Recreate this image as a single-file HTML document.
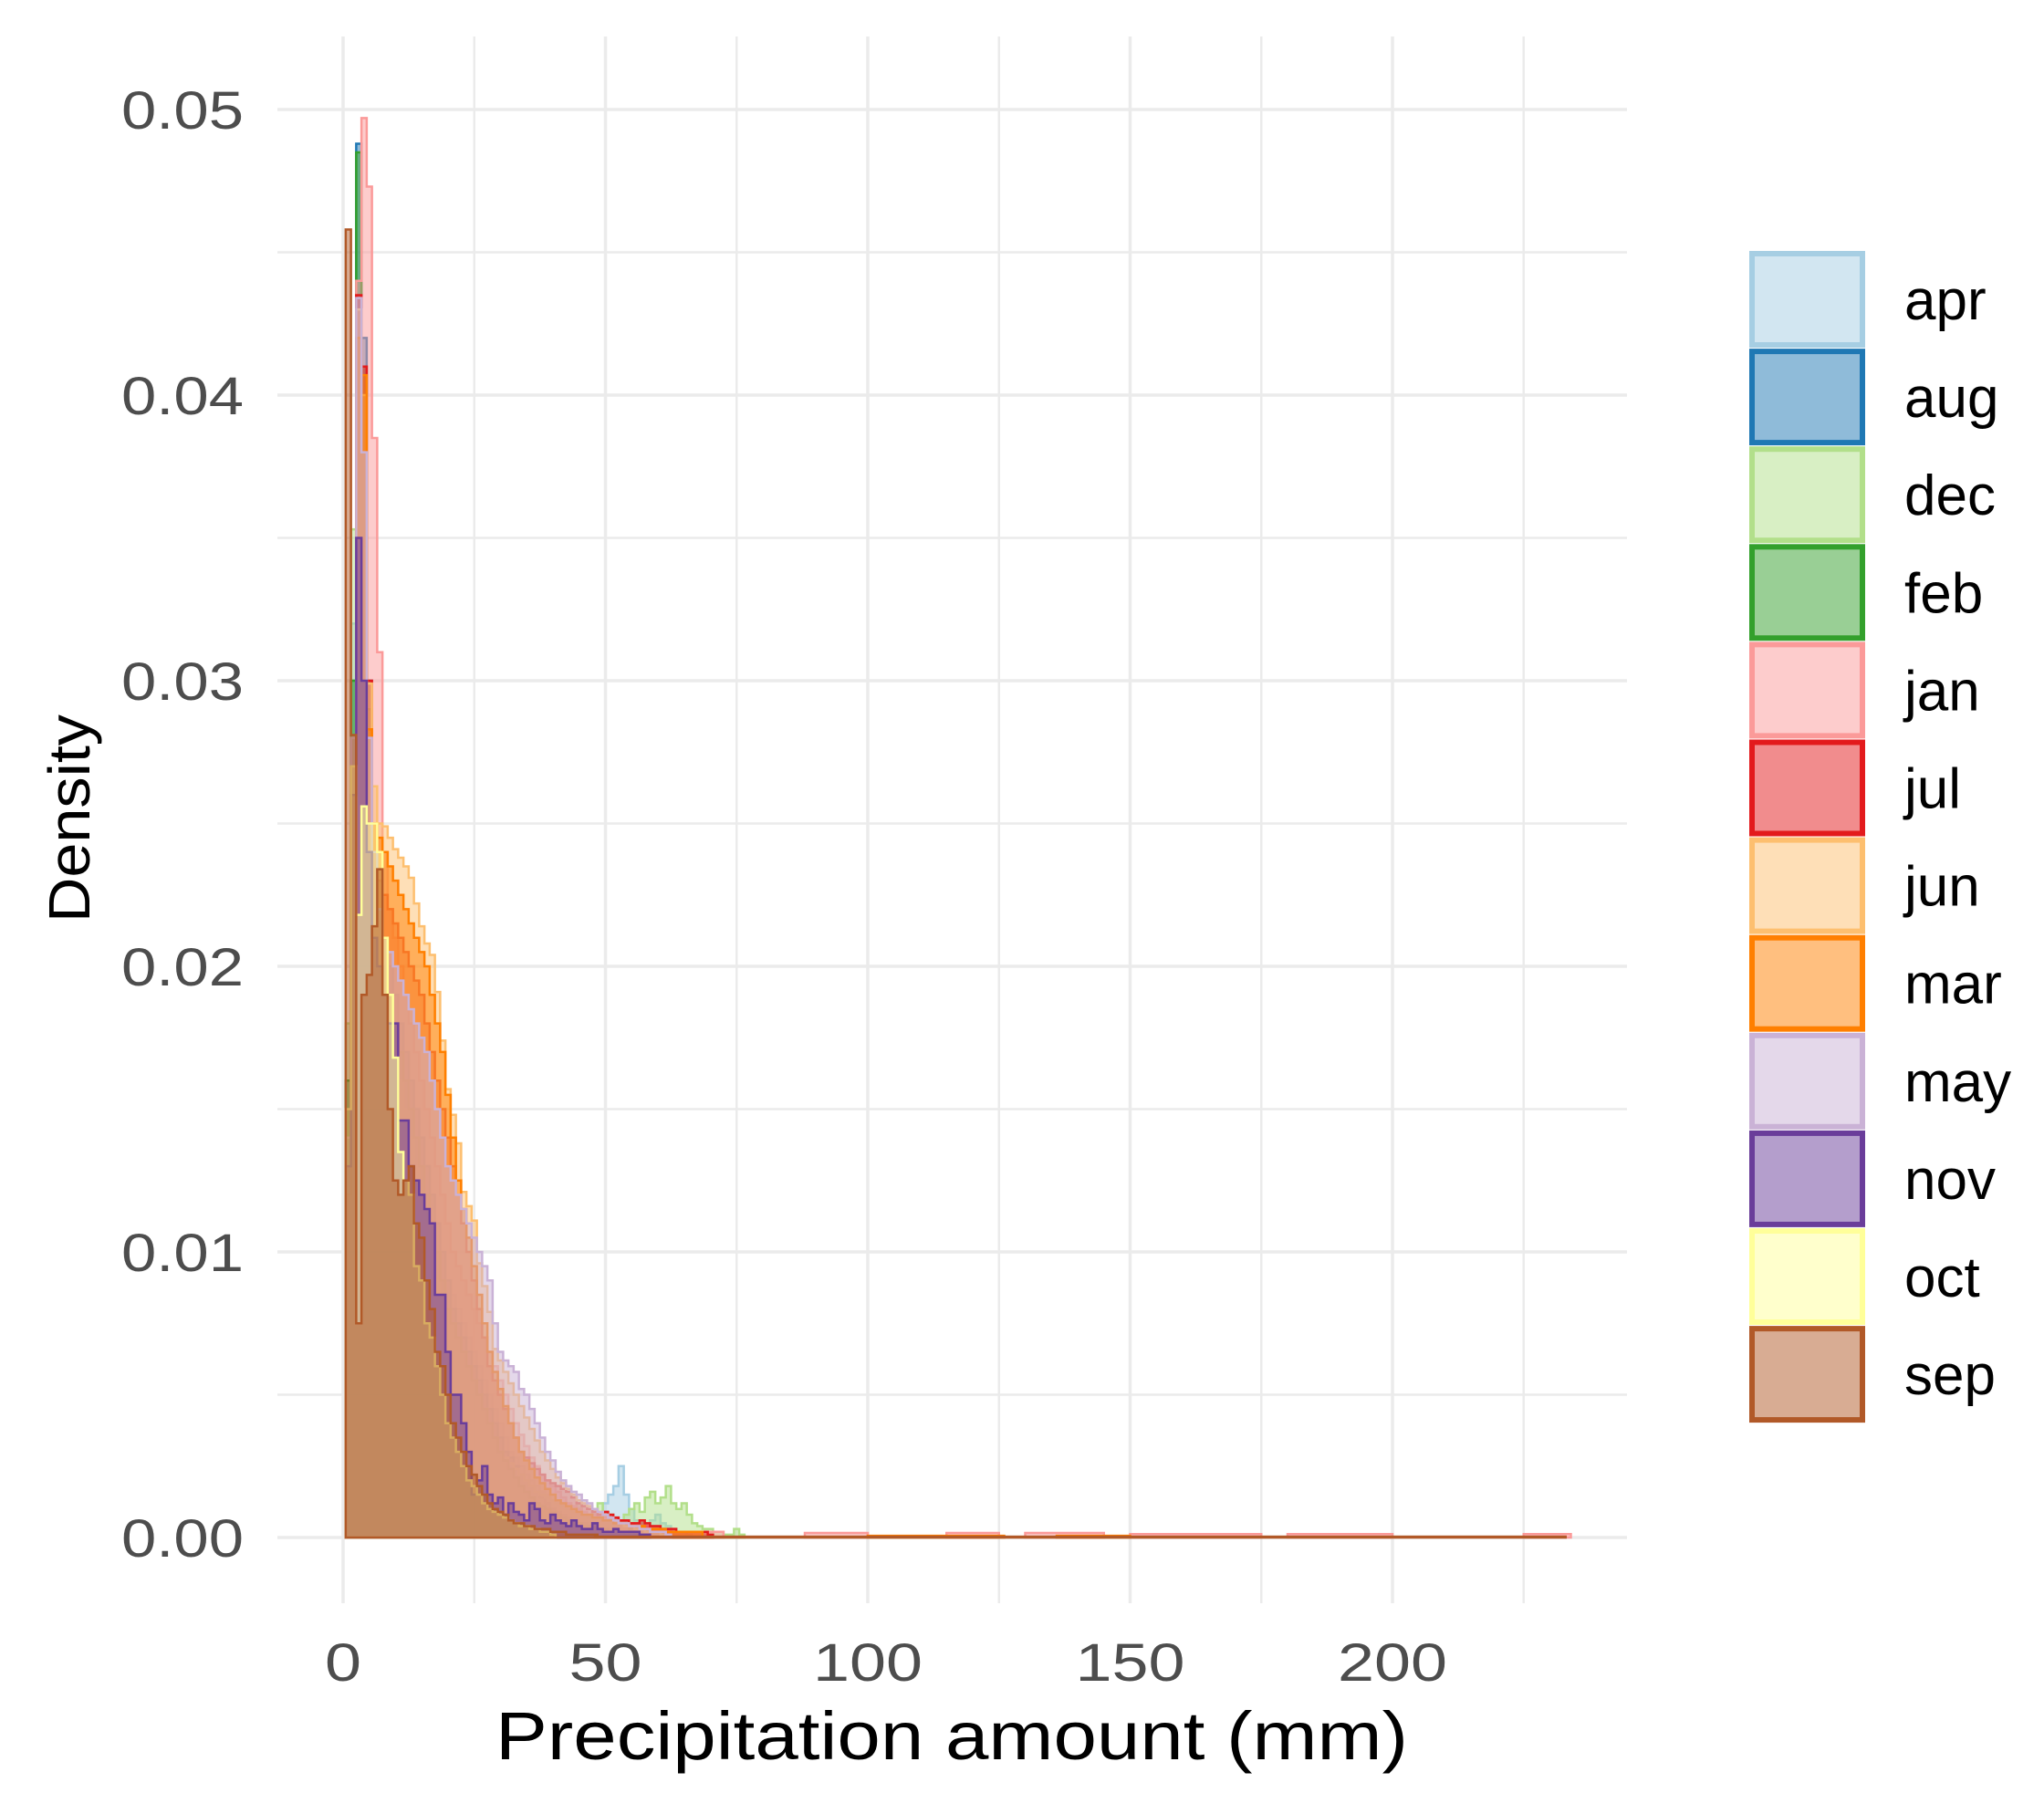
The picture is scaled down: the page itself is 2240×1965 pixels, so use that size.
<!DOCTYPE html>
<html><head><meta charset="utf-8"><style>
html,body{margin:0;padding:0;background:#fff;}
svg{display:block;}
text{font-family:"Liberation Sans",sans-serif;}
</style></head><body>
<svg id="chart" width="2240" height="1965" viewBox="0 0 2240 1965" xmlns="http://www.w3.org/2000/svg">
<g id="grid"></g>
<g id="bars"></g>
<g id="axes"></g>
<g id="legend"></g>
<text x="1043" y="1928" font-size="74" text-anchor="middle" fill="#000" textLength="1000" lengthAdjust="spacingAndGlyphs">Precipitation amount (mm)</text>
<text transform="translate(98,897) rotate(-90)" font-size="64" text-anchor="middle" fill="#000" textLength="228" lengthAdjust="spacingAndGlyphs">Density</text>
</svg>
<script>
const months = ["apr","aug","dec","feb","jan","jul","jun","mar","may","nov","oct","sep"];
const colors = ["#A6CEE3","#1F78B4","#B2DF8A","#33A02C","#FB9A99","#E31A1C","#FDBF6F","#FF7F00","#CAB2D6","#6A3D9A","#FFFF99","#B15928"];
const xTicks = [0,50,100,150,200];
const xTickLabels = ["0","50","100","150","200"];
const yTicks = [0,0.01,0.02,0.03,0.04,0.05];
const yTickLabels = ["0.00","0.01","0.02","0.03","0.04","0.05"];
// density per 1-mm bin, bins centred at 1,2,3,...
const apr = [0.012,0.032,0.043,0.040,0.030,0.024,0.022,0.021,0.020,0.019,0.018,0.017,0.016,0.015,0.014,0.013,0.012,0.011,0.010,0.009,0.0085,0.008,0.0075,0.007,0.0065,0.006,0.0055,0.005,0.0045,0.004,0.0035,0.003,0.0028,0.0025,0.0022,0.002,0.0018,0.0016,0.0015,0.0013,0.0012,0.0011,0.001,0.0009,0.0009,0.0008,0.0008,0.0007,0.0008,0.0012,0.0015,0.0018,0.0025,0.0015,0.001,0.0006,0.0005,0.0004,0.0006,0.0008,0.0005,0.0004,0.0003,0.0002,0.0002,0.0001];
const aug = [0.015,0.030,0.0488,0.042,0.030,0.024,0.022,0.021,0.020,0.019,0.018,0.017,0.016,0.015,0.014,0.013,0.012,0.011,0.010,0.009,0.008,0.0075,0.007,0.0065,0.006,0.0055,0.005,0.0045,0.004,0.0035,0.003,0.0028,0.0025,0.0022,0.002,0.0018,0.0016,0.0014,0.0012,0.001,0.0009,0.0008,0.0007,0.0006,0.0005,0.0005,0.0004,0.0004,0.0003,0.0003,0.0002,0.0002,0.0002,0.0001];
const dec = [0.018,0.0353,0.034,0.030,0.025,0.022,0.020,0.019,0.018,0.017,0.016,0.015,0.014,0.013,0.012,0.011,0.010,0.009,0.0085,0.008,0.0075,0.007,0.0065,0.006,0.0055,0.005,0.0045,0.004,0.0035,0.003,0.0028,0.0026,0.0024,0.0022,0.002,0.0018,0.0016,0.0015,0.0014,0.0013,0.0012,0.0011,0.001,0.0009,0.0012,0.0008,0.0007,0.001,0.0012,0.0009,0.0008,0.0007,0.0006,0.0008,0.0010,0.0012,0.0009,0.0014,0.0016,0.0012,0.0014,0.0018,0.0012,0.0010,0.0012,0.0008,0.0005,0.0004,0.0003,0.0003,0.0002,0.0002,0.0001,0.0001,0.0003,0.0001];
const feb = [0.016,0.030,0.0485,0.041,0.029,0.023,0.021,0.020,0.019,0.018,0.017,0.016,0.015,0.014,0.013,0.012,0.011,0.010,0.009,0.008,0.0075,0.007,0.0065,0.006,0.0055,0.005,0.0045,0.004,0.0035,0.003,0.0027,0.0024,0.0021,0.0018,0.0016,0.0014,0.0012,0.0011,0.001,0.0009,0.0008,0.0007,0.0006,0.0005,0.0005,0.0004,0.0004,0.0003,0.0003,0.0003,0.0002,0.0002,0.0002,0.0001,0.0004,0.0001];
const jan = [0.012,0.028,0.044,0.0497,0.0473,0.0385,0.031,0.024,0.022,0.021,0.020,0.019,0.018,0.017,0.016,0.015,0.014,0.013,0.012,0.011,0.010,0.0095,0.009,0.0085,0.008,0.0075,0.007,0.0065,0.006,0.0055,0.005,0.0045,0.004,0.0036,0.0032,0.0028,0.0025,0.0022,0.002,0.0018,0.0016,0.0014,0.0012,0.0011,0.001,0.0009,0.0008,0.0008,0.0007,0.0007,0.0006,0.0006,0.0005,0.0005,0.0005,0.0004,0.0004,0.0004,0.0003,0.0003,0.0003,0.0003,0.0002,0.0002,0.0002,0.0002,0.0002,0.0002,0.0002,0.0002,0.0002,0.0002];
const jul = [0.012,0.026,0.0435,0.041,0.030,0.025,0.023,0.0225,0.022,0.0215,0.021,0.0205,0.020,0.0195,0.019,0.018,0.017,0.016,0.015,0.014,0.013,0.012,0.011,0.010,0.009,0.008,0.007,0.006,0.0055,0.005,0.0045,0.004,0.0035,0.003,0.0028,0.0026,0.0024,0.0022,0.002,0.0019,0.0018,0.0017,0.0016,0.0014,0.0012,0.0011,0.001,0.0009,0.0008,0.0009,0.0008,0.0007,0.0006,0.0006,0.0005,0.0005,0.0006,0.0005,0.0004,0.0004,0.0003,0.0003,0.0003,0.0002,0.0002,0.0002,0.0002,0.0002,0.0002,0.0001];
const jun = [0.013,0.027,0.043,0.040,0.0299,0.0263,0.025,0.0249,0.0245,0.0241,0.0238,0.0235,0.0231,0.0222,0.0214,0.0208,0.0204,0.0191,0.0174,0.0157,0.0148,0.0138,0.0121,0.0116,0.0111,0.0096,0.0088,0.0079,0.0066,0.0062,0.0058,0.0054,0.005,0.0046,0.0042,0.0038,0.0034,0.003,0.0027,0.0024,0.0021,0.0019,0.0017,0.0015,0.0013,0.0012,0.0011,0.001,0.0009,0.0008,0.0007,0.0006,0.0005,0.0004,0.0004,0.0003,0.0003,0.0002,0.0002,0.0002,0.0001];
const mar = [0.012,0.026,0.042,0.0407,0.0283,0.025,0.0245,0.024,0.0235,0.023,0.0225,0.022,0.0215,0.021,0.0205,0.020,0.019,0.018,0.017,0.0155,0.014,0.0125,0.0115,0.0105,0.0095,0.0085,0.0075,0.0065,0.0058,0.0052,0.0046,0.004,0.0035,0.003,0.0027,0.0024,0.0021,0.0019,0.0017,0.0015,0.0013,0.0012,0.0011,0.001,0.0009,0.0008,0.0008,0.0007,0.0007,0.0006,0.0006,0.0005,0.0005,0.0005,0.0004,0.0004,0.0004,0.0003,0.0003,0.0003,0.0003,0.0002,0.0002,0.0002,0.0002,0.0002,0.0002,0.0002];
const may = [0.014,0.028,0.0434,0.038,0.028,0.024,0.022,0.021,0.0205,0.020,0.0195,0.019,0.0185,0.018,0.0175,0.017,0.016,0.015,0.014,0.013,0.0125,0.012,0.0115,0.011,0.0105,0.010,0.0095,0.009,0.0075,0.0065,0.0062,0.006,0.0058,0.0052,0.005,0.0045,0.004,0.0035,0.003,0.0027,0.0023,0.002,0.0018,0.0016,0.0015,0.0013,0.0012,0.001,0.0009,0.0008,0.0007,0.0006,0.0005,0.0005,0.0004,0.0004,0.0003,0.0003,0.0002,0.0002,0.0002,0.0001];
const nov = [0.013,0.026,0.035,0.030,0.024,0.021,0.020,0.019,0.018,0.018,0.0146,0.0146,0.013,0.0125,0.012,0.0115,0.011,0.0085,0.0085,0.0065,0.005,0.005,0.004,0.003,0.0015,0.002,0.0025,0.0015,0.0012,0.0014,0.0008,0.0012,0.0009,0.0008,0.0006,0.0012,0.001,0.0006,0.0005,0.0008,0.0006,0.0005,0.0004,0.0006,0.0004,0.0003,0.0003,0.0005,0.0003,0.0002,0.0002,0.0003,0.0002,0.0002,0.0002,0.0002,0.0001,0.0001];
const oct = [0.015,0.027,0.0218,0.0256,0.025,0.025,0.024,0.021,0.019,0.0168,0.0135,0.0125,0.012,0.0095,0.009,0.0075,0.007,0.006,0.005,0.004,0.0035,0.003,0.0025,0.002,0.0018,0.0015,0.0012,0.001,0.0009,0.0008,0.0007,0.0006,0.0005,0.0004,0.0004,0.0003,0.0003,0.0002,0.0002,0.0001];
const sep = [0.0458,0.0281,0.0075,0.019,0.0197,0.0214,0.0234,0.019,0.015,0.0125,0.012,0.0125,0.013,0.011,0.0105,0.009,0.008,0.0065,0.006,0.005,0.004,0.0035,0.003,0.0025,0.0022,0.0018,0.0015,0.0012,0.001,0.0009,0.0008,0.0006,0.0005,0.0005,0.0004,0.0004,0.0003,0.0003,0.0003,0.0002,0.0002,0.0002,0.0001,0.0001,0.0001,0.0001,0.0001,0.0001];
// sparse tail bins: [bin start (mm), bin end (mm), density]
const janTail = [[88,100,0.00016],[115,125,0.00016],[130,145,0.00016],[150,175,0.00012],[180,200,0.00012],[225,234,0.00012]];
const marTail = [[100,126,0.00006],[136,150,0.00006]];
const sepTail = [[48,233,0.00003]];
const seriesValues = [apr,aug,dec,feb,jan,jul,jun,mar,may,nov,oct,sep];
const seriesTails = [[],[],[],[],janTail,[],[],marTail,[],[],[],sepTail];

const NS="http://www.w3.org/2000/svg";
const X0=376, XS=5.75, Y0=1685, YS=31300;
function xScale(v){return X0+v*XS;}
function yScale(d){return Y0-d*YS;}
function mk(tag,parent){const e=document.createElementNS(NS,tag);parent.appendChild(e);return e;}

// grid
const grid=document.getElementById('grid');
for(let i=0;i<=10;i++){
  const d=i*0.005;
  const l=mk('line',grid);
  
  
  l.setAttribute('x1',304);l.setAttribute('x2',1783);
  l.setAttribute('y1',yScale(d));l.setAttribute('y2',yScale(d));
  l.setAttribute('stroke','#ebebeb');l.setAttribute('stroke-width',i%2?2.5:3.5);
}
for(let i=0;i<=9;i++){
  const v=i*25;
  const l=mk('line',grid);
  
  
  l.setAttribute('x1',xScale(v));l.setAttribute('x2',xScale(v));
  l.setAttribute('y1',40);l.setAttribute('y2',1757);
  l.setAttribute('stroke','#ebebeb');l.setAttribute('stroke-width',i%2?2.5:3.5);
}

// bars: each series drawn as a filled step path plus an outline
const bars=document.getElementById('bars');
seriesValues.forEach((vals,si)=>{
  const g=mk('g',bars);
  
  
  const segs=[];
  vals.forEach((d,i)=>segs.push([i+0.5,i+1.5,d]));
  let main='M'+xScale(0.5)+','+Y0;
  segs.forEach(s=>{main+=' L'+xScale(s[0])+','+yScale(s[2])+' L'+xScale(s[1])+','+yScale(s[2]);});
  main+=' L'+xScale(vals.length+0.5)+','+Y0+' Z';
  const p=mk('path',g);
  
  
  p.setAttribute('d',main);
  p.setAttribute('fill',colors[si]);p.setAttribute('fill-opacity',0.5);
  p.setAttribute('stroke',colors[si]);p.setAttribute('stroke-width',2.5);p.setAttribute('stroke-linejoin','miter');
  seriesTails[si].forEach(t=>{
    const x1=xScale(t[0]),x2=xScale(t[1]),y=yScale(t[2]);
    const rc=mk('rect',g);
    
    
    rc.setAttribute('x',x1);rc.setAttribute('width',x2-x1);
    rc.setAttribute('y',y);rc.setAttribute('height',Math.max(Y0-y,0.5));
    rc.setAttribute('fill',colors[si]);rc.setAttribute('fill-opacity',0.5);
    rc.setAttribute('stroke',colors[si]);rc.setAttribute('stroke-width',2.5);
  });
});

// axes labels
const axes=document.getElementById('axes');
yTicks.forEach((d,i)=>{
  const t=mk('text',axes);
  
  
  t.setAttribute('x',267);t.setAttribute('y',yScale(d)+21);
  t.setAttribute('text-anchor','end');t.setAttribute('font-size',58);
  t.setAttribute('fill','#4d4d4d');
  t.setAttribute('textLength',134);t.setAttribute('lengthAdjust','spacingAndGlyphs');
  t.textContent=yTickLabels[i];
});
xTicks.forEach((v,i)=>{
  const t=mk('text',axes);
  
  
  t.setAttribute('x',xScale(v));t.setAttribute('y',1842);
  t.setAttribute('text-anchor','middle');t.setAttribute('font-size',58);
  t.setAttribute('fill','#4d4d4d');
  t.setAttribute('textLength',xTickLabels[i].length*40);t.setAttribute('lengthAdjust','spacingAndGlyphs');
  t.textContent=xTickLabels[i];
});

// legend
const legend=document.getElementById('legend');
months.forEach((m,i)=>{
  const y=275+i*107.1;
  const r=mk('rect',legend);
  
  
  r.setAttribute('x',1920);r.setAttribute('y',y+3);r.setAttribute('width',121);r.setAttribute('height',100);
  r.setAttribute('fill',colors[i]);r.setAttribute('fill-opacity',0.5);
  r.setAttribute('stroke',colors[i]);r.setAttribute('stroke-width',6);
  const t=mk('text',legend);
  
  
  t.setAttribute('x',2087);t.setAttribute('y',y+75);
  t.setAttribute('font-size',62);t.setAttribute('fill','#000');
  t.textContent=m;
});
</script>
</body></html>
